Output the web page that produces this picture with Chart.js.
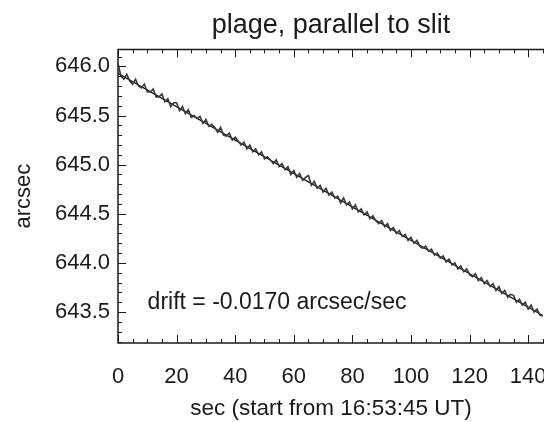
<!DOCTYPE html>
<html>
<head>
<meta charset="utf-8">
<script src="https://cdn.jsdelivr.net/npm/chart.js@4"></script>
<style>
  html, body { margin: 0; padding: 0; background: #fff; }
  #wrap { width: 544px; height: 422px; }
</style>
</head>
<body>
<div id="wrap"><canvas id="chart" width="544" height="422"></canvas></div>
<script>
// time in seconds from 16:53:45 UT
const seconds = [
  0, 1, 2, 3, 4, 5, 6, 7, 8, 9, 10, 11, 12, 13, 14, 15, 16, 17, 18, 19,
  20, 21, 22, 23, 24, 25, 26, 27, 28, 29, 30, 31, 32, 33, 34, 35, 36, 37, 38, 39,
  40, 41, 42, 43, 44, 45, 46, 47, 48, 49, 50, 51, 52, 53, 54, 55, 56, 57, 58, 59,
  60, 61, 62, 63, 64, 65, 66, 67, 68, 69, 70, 71, 72, 73, 74, 75, 76, 77, 78, 79,
  80, 81, 82, 83, 84, 85, 86, 87, 88, 89, 90, 91, 92, 93, 94, 95, 96, 97, 98, 99,
  100, 101, 102, 103, 104, 105, 106, 107, 108, 109, 110, 111, 112, 113, 114, 115, 116, 117, 118, 119,
  120, 121, 122, 123, 124, 125, 126, 127, 128, 129, 130, 131, 132, 133, 134, 135, 136, 137, 138, 139,
  140, 141, 142, 143, 144, 145
];
// measured position (arcsec)
const position = [
  646.03, 645.90, 645.87, 645.92, 645.85, 645.82, 645.87, 645.80, 645.78, 645.82,
  645.74, 645.74, 645.77, 645.69, 645.69, 645.72, 645.64, 645.67, 645.59, 645.63,
  645.63, 645.55, 645.59, 645.52, 645.56, 645.48, 645.50, 645.47, 645.49, 645.42,
  645.46, 645.39, 645.41, 645.38, 645.33, 645.38, 645.30, 645.29, 645.32, 645.25,
  645.28, 645.24, 645.20, 645.23, 645.16, 645.20, 645.13, 645.16, 645.10, 645.13,
  645.06, 645.08, 645.05, 645.01, 645.05, 644.98, 645.01, 644.95, 644.98, 644.90,
  644.94, 644.87, 644.91, 644.84, 644.87, 644.89, 644.79, 644.83, 644.76, 644.79,
  644.72, 644.76, 644.69, 644.72, 644.66, 644.68, 644.61, 644.66, 644.59, 644.62,
  644.55, 644.59, 644.52, 644.55, 644.49, 644.52, 644.45, 644.48, 644.43, 644.40,
  644.43, 644.37, 644.40, 644.33, 644.36, 644.30, 644.33, 644.27, 644.29, 644.23,
  644.26, 644.20, 644.23, 644.17, 644.15, 644.17, 644.12, 644.14, 644.08, 644.10,
  644.05, 644.07, 644.01, 644.04, 643.98, 644.00, 643.94, 643.97, 643.91, 643.94,
  643.88, 643.86, 643.89, 643.82, 643.85, 643.79, 643.82, 643.76, 643.79, 643.72,
  643.76, 643.69, 643.72, 643.65, 643.68, 643.67, 643.60, 643.63, 643.57, 643.60,
  643.53, 643.57, 643.50, 643.53, 643.47, 643.46
];
// linear fit, drift = -0.0170 arcsec/sec
const fitSeconds = [0, 145];
const fitPosition = [645.93, 643.465];

const xTicks = [0, 20, 40, 60, 80, 100, 120, 140];
const yTicks = [643.5, 644.0, 644.5, 645.0, 645.5, 646.0];

const FONT = "'Liberation Sans', Arial, Helvetica, sans-serif";
const INK = '#1a1a1a';

// IDL style frame: axis lines with inward major/minor ticks
const framePlugin = {
    id: 'frame',
    afterDraw(chart) {
        const ctx = chart.ctx;
        const a = chart.chartArea;
        const xs = chart.scales.x;
        const ys = chart.scales.y;
        ctx.save();
        ctx.strokeStyle = INK;
        ctx.lineWidth = 1.5;
        ctx.beginPath();
        ctx.moveTo(a.right + 2, a.top);
        ctx.lineTo(a.left, a.top);
        ctx.lineTo(a.left, a.bottom);
        ctx.lineTo(a.right + 2, a.bottom);
        ctx.stroke();

        ctx.lineWidth = 1;
        ctx.beginPath();
        for (let v = 0; v <= xs.max; v += 5) {
            const px = Math.round(xs.getPixelForValue(v)) + 0.5;
            const len = v % 20 === 0 ? 8 : 4;
            ctx.moveTo(px, a.bottom); ctx.lineTo(px, a.bottom - len);
            ctx.moveTo(px, a.top); ctx.lineTo(px, a.top + len);
        }
        for (let i = 0; i <= 32; i++) {
            const v = 643.0 + i * 0.1;
            if (v < ys.min || v > ys.max) continue;
            const py = Math.round(ys.getPixelForValue(v)) + 0.5;
            const len = (i % 5 === 0) ? 8 : 4;
            ctx.moveTo(a.left, py); ctx.lineTo(a.left + len, py);
        }
        ctx.stroke();

        // drift annotation
        ctx.fillStyle = INK;
        ctx.font = '23px ' + FONT;
        ctx.textBaseline = 'middle';
        ctx.textAlign = 'left';
        ctx.fillText('drift = -0.0170 arcsec/sec', xs.getPixelForValue(10.1), ys.getPixelForValue(643.6));
        ctx.restore();
    }
};

new Chart(document.getElementById('chart'), {
    type: 'line',
    data: {
        datasets: [
            {
                data: seconds.map((s, i) => ({ x: s, y: position[i] })),
                borderColor: '#3a3a3a',
                borderWidth: 1.6,
                pointRadius: 0,
                tension: 0,
                order: 1
            },
            {
                data: fitSeconds.map((s, i) => ({ x: s, y: fitPosition[i] })),
                borderColor: '#000',
                borderWidth: 1.2,
                pointRadius: 0,
                order: 2
            }
        ]
    },
    options: {
        responsive: false,
        animation: false,
        layout: { padding: 0 },
        plugins: {
            legend: { display: false },
            tooltip: { enabled: false },
            title: {
                display: true,
                fullSize: false,
                text: 'plage, parallel to slit',
                color: INK,
                font: { family: FONT, size: 27, weight: 'normal' },
                padding: { top: 9, bottom: 8 }
            }
        },
        scales: {
            x: {
                type: 'linear',
                min: 0,
                max: 145.4,
                afterBuildTicks: s => { s.ticks = xTicks.map(v => ({ value: v })); },
                afterFit: s => { s.height = 79; s.paddingLeft = 0; s.paddingRight = 0; },
                grid: { display: false, drawTicks: false },
                border: { display: false },
                ticks: {
                    color: INK,
                    padding: 21,
                    maxRotation: 0,
                    font: { family: FONT, size: 22 }
                },
                title: {
                    display: true,
                    text: 'sec (start from 16:53:45 UT)',
                    color: INK,
                    font: { family: FONT, size: 22.5 },
                    padding: { top: 0, bottom: 0 }
                }
            },
            y: {
                type: 'linear',
                min: 643.185,
                max: 646.173,
                afterBuildTicks: s => { s.ticks = yTicks.map(v => ({ value: v })); },
                afterFit: s => { s.width = 118; },
                grid: { display: false, drawTicks: false },
                border: { display: false },
                ticks: {
                    color: INK,
                    padding: 8,
                    callback: v => Number(v).toFixed(1),
                    font: { family: FONT, size: 22 }
                },
                title: {
                    display: true,
                    text: 'arcsec',
                    color: INK,
                    font: { family: FONT, size: 22 },
                    padding: { top: 11, bottom: 0 }
                }
            }
        }
    },
    plugins: [framePlugin]
});
</script>
</body>
</html>
